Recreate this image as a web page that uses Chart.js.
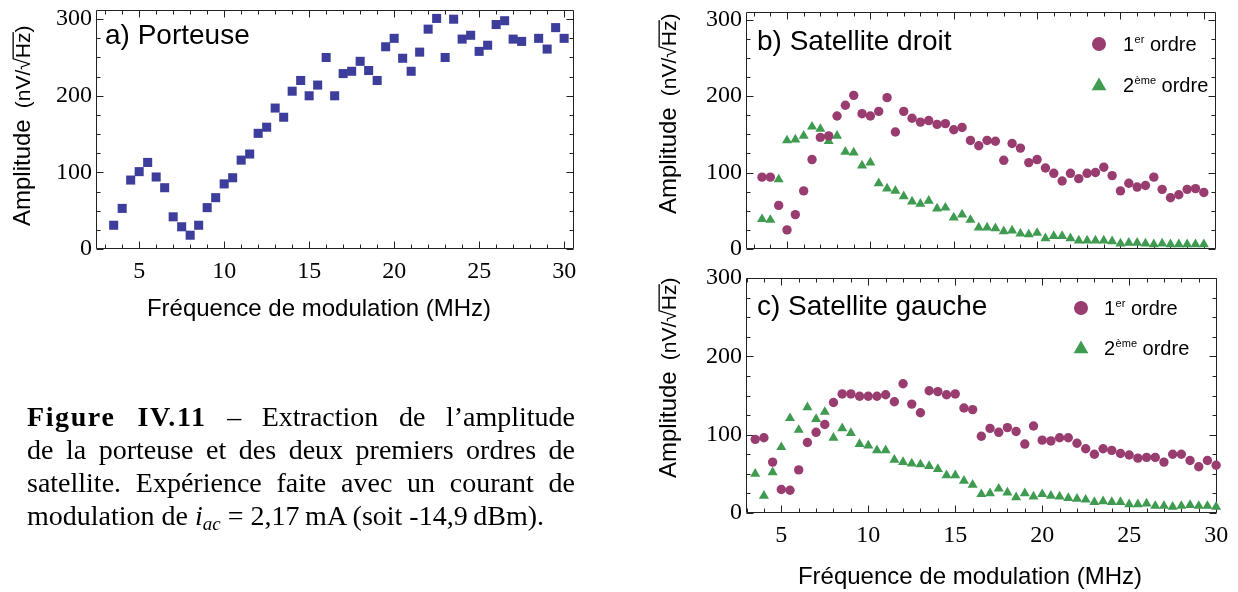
<!DOCTYPE html>
<html><head><meta charset="utf-8">
<script src="https://cdn.jsdelivr.net/npm/chart.js@4.4.0/dist/chart.umd.min.js"></script>
<style>
html,body{margin:0;padding:0;background:#fff;width:1238px;height:592px;overflow:hidden;}
canvas{position:absolute;left:0;top:0;}
#cap{position:absolute;left:27px;top:400px;width:548px;font-family:"Liberation Serif","Times New Roman",serif;font-size:28px;line-height:33px;color:#000;}
#cap .j{text-align:justify;text-align-last:justify;}
#cap b{letter-spacing:1.6px;}
#cap sub{font-size:19px;line-height:0;vertical-align:-5px;}
</style></head>
<body>
<canvas id="ca" width="1238" height="592"></canvas>
<canvas id="cb" width="1238" height="592"></canvas>
<canvas id="cc" width="1238" height="592"></canvas>
<div id="cap">
<div class="j"><b>Figure IV.11</b> – Extraction de l’amplitude</div>
<div class="j">de la porteuse et des deux premiers ordres de</div>
<div class="j">satellite. Expérience faite avec un courant de</div>
<div>modulation de <i>i<sub>ac</sub></i> = 2,17&#8201;mA (soit -14,9&#8201;dBm).</div>
</div>
<script>
// ---------- data ----------
const xTicks = [5, 10, 15, 20, 25, 30];
const yTicks = [0, 100, 200, 300];

const freqA = [3.5,4,4.5,5,5.5,6,6.5,7,7.5,8,8.5,9,9.5,10,10.5,11,11.5,12,12.5,13,13.5,14,14.5,15,15.5,16,16.5,17,17.5,18,18.5,19,19.5,20,20.5,21,21.5,22,22.5,23,23.5,24,24.5,25,25.5,26,26.5,27,27.5,28.5,29,29.5,30];
const porteuse = [31,53,90,101,113,94,80,42,29,18,31,54,67,85,93,116,124,151,159,184,172,206,220,200,214,250,200,229,232,245,233,220,264,275,249,232,257,287,301,250,300,274,279,258,266,293,298,274,271,275,261,289,275];

const freqBC = [3.5,4,4.5,5,5.5,6,6.5,7,7.5,8,8.5,9,9.5,10,10.5,11,11.5,12,12.5,13,13.5,14,14.5,15,15.5,16,16.5,17,17.5,18,18.5,19,19.5,20,20.5,21,21.5,22,22.5,23,23.5,24,24.5,25,25.5,26,26.5,27,27.5,28,28.5,29,29.5,30];
const droit1 = [94,94,57,25,45,76,117,146,148,174,188,201,177,174,180,198,153,180,171,166,168,163,164,156,159,142,135,142,141,116,138,132,113,117,106,99,89,99,92,99,100,107,96,76,86,81,83,94,78,67,71,78,79,74];
const droit2 = [39,38,91,142,143,148,160,157,141,148,127,126,109,113,86,79,76,69,62,59,63,53,54,41,45,38,28,28,27,23,24,20,19,21,14,17,17,14,11,11,11,11,10,7,8,8,7,6,7,6,6,6,6,6];
const gauche1 = [94,96,65,30,29,55,90,103,113,141,152,152,149,149,149,151,142,165,139,128,156,155,151,152,134,132,98,108,103,109,104,88,111,93,92,96,96,89,82,75,82,80,76,74,70,71,71,65,75,75,67,59,67,61];
const gauche2 = [50,22,52,84,121,106,135,120,129,96,108,102,88,86,80,80,68,65,63,62,60,56,48,48,41,36,24,25,31,26,20,25,21,24,22,21,19,18,17,14,15,14,14,11,11,12,9,9,8,9,10,9,9,8];

const titleA = 'a) Porteuse', titleB = 'b) Satellite droit', titleC = 'c) Satellite gauche';
const xTitle = 'Fréquence de modulation (MHz)';

// ---------- styles ----------
const BLUE = '#3d3d9b', PURPLE = '#993c70', GREEN = '#3e9b50';
const SANS = '"Liberation Sans", Arial, sans-serif';
const SERIF = '"Liberation Serif", "Times New Roman", serif';
const W = 1238, H = 592;

const pts = (xs, ys) => xs.map((x, i) => ({x, y: ys[i]}));

const framePlugin = {
  id: 'frame',
  beforeDatasetsDraw(chart) {
    const {ctx, chartArea: a, scales: {x, y}} = chart;
    const L = Math.round(a.left) + 0.5, R = Math.round(a.right) - 0.5;
    const T = Math.round(a.top) + 0.5, B = Math.round(a.bottom) - 0.5;
    ctx.save();
    ctx.strokeStyle = '#222'; ctx.lineWidth = 1;
    ctx.beginPath();
    ctx.rect(L, T, R - L, B - T);
    for (let v = Math.ceil(x.min); v <= x.max + 1e-9; v += 1) {
      const px = Math.round(x.getPixelForValue(v)) + 0.5;
      const len = v % 5 === 0 ? 7 : 4;
      ctx.moveTo(px, B); ctx.lineTo(px, B - len);
      ctx.moveTo(px, T); ctx.lineTo(px, T + len);
    }
    for (let v = 0; v <= y.max + 1e-9; v += 25) {
      const py = Math.round(y.getPixelForValue(v)) + 0.5;
      const len = v % 100 === 0 ? 7 : 4;
      ctx.moveTo(L, py); ctx.lineTo(L + len, py);
      ctx.moveTo(R, py); ctx.lineTo(R - len, py);
    }
    ctx.stroke();
    ctx.restore();
  }
};

function drawMarker(ctx, style, x, y, r, color) {
  ctx.fillStyle = color;
  ctx.beginPath();
  if (style === 'circle') {
    ctx.arc(x, y, r, 0, Math.PI * 2);
  } else {
    ctx.moveTo(x, y - r);
    ctx.lineTo(x + r * Math.sin(2 * Math.PI / 3), y - r * Math.cos(2 * Math.PI / 3));
    ctx.lineTo(x + r * Math.sin(4 * Math.PI / 3), y - r * Math.cos(4 * Math.PI / 3));
    ctx.closePath();
  }
  ctx.fill();
}

const decoPlugin = {
  id: 'deco',
  afterDraw(chart, args, o) {
    const ctx = chart.ctx;
    ctx.save();
    ctx.fillStyle = '#000';
    ctx.textBaseline = 'alphabetic';
    // panel label
    ctx.textAlign = 'left';
    ctx.font = '28px ' + SANS;
    ctx.fillText(o.label, o.labelX, o.labelY);
    // x title
    if (o.xTitleY) {
      ctx.textAlign = 'center';
      ctx.font = '24px ' + SANS;
      ctx.fillText(xTitle, o.xTitleX, o.xTitleY);
    }
    // legend
    if (o.legend) {
      o.legend.forEach(e => {
        drawMarker(ctx, e.style, e.mx, e.my, e.r, e.color);
        ctx.fillStyle = '#000';
        ctx.textAlign = 'left';
        let tx = e.tx;
        ctx.font = '20px ' + SANS; ctx.fillText(e.main, tx, e.ty); tx += ctx.measureText(e.main).width + 0.5;
        ctx.font = '11px ' + SANS; ctx.fillText(e.sup, tx, e.ty - 8); tx += ctx.measureText(e.sup).width;
        ctx.font = '20px ' + SANS; ctx.fillText(' ordre', tx, e.ty);
      });
    }
    // y title (rotated)
    ctx.translate(o.yX, o.yY);
    ctx.rotate(-Math.PI / 2);
    ctx.textAlign = 'left';
    ctx.fillStyle = '#000';
    ctx.font = '24px ' + SANS;
    ctx.fillText('Amplitude', 0, 0);
    let w = ctx.measureText('Amplitude').width + 11;
    ctx.font = '21px ' + SANS;
    ctx.fillText('(nV/', w, 0); w += ctx.measureText('(nV/').width;
    ctx.fillText('√', w, 0); const rw = ctx.measureText('√').width; w += rw;
    const hzW = ctx.measureText('Hz').width;
    ctx.fillText('Hz', w, 0);
    ctx.fillRect(w - 1, -17.5, hzW + 1.5, 1.3);
    w += hzW;
    ctx.fillText(')', w, 0);
    ctx.restore();
  }
};

function makeChart(id, p, datasets) {
  return new Chart(document.getElementById(id), {
    type: 'scatter',
    data: {datasets},
    plugins: [framePlugin, decoPlugin],
    options: {
      responsive: false, animation: false, devicePixelRatio: 1,
      layout: {padding: {left: p.left - 60, top: p.top, right: W - p.right, bottom: H - p.bottom - 30}},
      plugins: {legend: {display: false}, tooltip: {enabled: false}, deco: p.deco},
      scales: {
        x: {
          type: 'linear', min: p.xmin, max: p.xmax,
          grid: {display: false, drawTicks: false}, border: {display: false},
          afterBuildTicks: s => { s.ticks = xTicks.map(v => ({value: v})); },
          afterFit: s => { s.height = 30; s.paddingLeft = 0; s.paddingRight = 0; s.paddingTop = 0; s.paddingBottom = 0; },
          ticks: {display: p.xlabels, font: {family: SERIF, size: 24}, color: '#000', padding: 8, maxRotation: 0, autoSkip: false}
        },
        y: {
          type: 'linear', min: 0, max: p.ymax,
          grid: {display: false, drawTicks: false}, border: {display: false},
          afterBuildTicks: s => { s.ticks = yTicks.map(v => ({value: v})); },
          afterFit: s => { s.width = 60; s.paddingTop = 0; s.paddingBottom = 0; s.paddingLeft = 0; s.paddingRight = 0; },
          ticks: {font: {family: SERIF, size: 24}, color: '#000', padding: 4}
        }
      }
    }
  });
}

const circleDs = (label, data) => ({label, data, pointStyle: 'circle', pointRadius: 4.7, backgroundColor: PURPLE, borderWidth: 0, clip: false});
const triDs = (label, data) => ({label, data, pointStyle: 'triangle', pointRadius: 5.8, backgroundColor: GREEN, borderWidth: 0, clip: false});

makeChart('ca', {
  left: 96, right: 574, top: 10, bottom: 249, xmin: 2.46, xmax: 30.58, ymax: 312, xlabels: true,
  deco: {label: titleA, labelX: 105, labelY: 44, xTitleX: 319, xTitleY: 316, yX: 30, yY: 226}
}, [{label: 'Porteuse', data: pts(freqA, porteuse), pointStyle: 'rect', pointRadius: 6.4, backgroundColor: BLUE, borderWidth: 0, clip: false}]);

makeChart('cb', {
  left: 746, right: 1216, top: 12, bottom: 249, xmin: 2.54, xmax: 30.73, ymax: 310, xlabels: false,
  deco: {label: titleB, labelX: 757, labelY: 50, yX: 676, yY: 214,
    legend: [
      {style: 'circle', mx: 1099, my: 44, r: 7, color: PURPLE, tx: 1123, ty: 51, main: '1', sup: 'er'},
      {style: 'triangle', mx: 1099, my: 86, r: 8.5, color: GREEN, tx: 1123, ty: 92, main: '2', sup: 'ème'}
    ]}
}, [circleDs('1er ordre', pts(freqBC, droit1)), triDs('2ème ordre', pts(freqBC, droit2))]);

makeChart('cc', {
  left: 746, right: 1217, top: 278, bottom: 513, xmin: 2.97, xmax: 30.05, ymax: 300, xlabels: true,
  deco: {label: titleC, labelX: 757, labelY: 315, xTitleX: 970, xTitleY: 584, yX: 676, yY: 478,
    legend: [
      {style: 'circle', mx: 1081, my: 308, r: 7, color: PURPLE, tx: 1104, ty: 315, main: '1', sup: 'er'},
      {style: 'triangle', mx: 1081, my: 349, r: 8.5, color: GREEN, tx: 1104, ty: 355, main: '2', sup: 'ème'}
    ]}
}, [circleDs('1er ordre', pts(freqBC, gauche1)), triDs('2ème ordre', pts(freqBC, gauche2))]);
</script>
</body></html>
